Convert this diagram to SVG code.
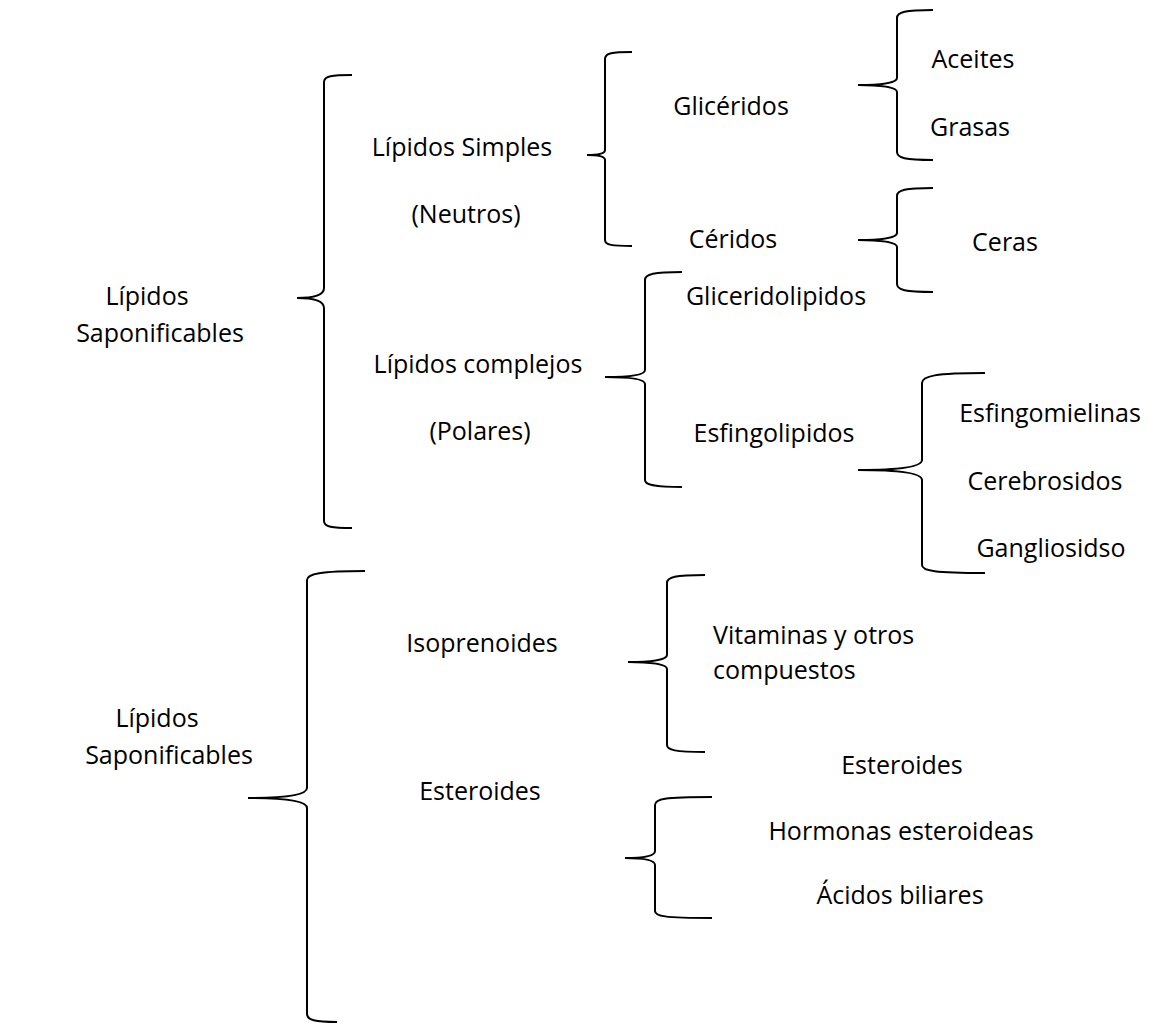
<svg xmlns="http://www.w3.org/2000/svg" width="1149" height="1025" viewBox="0 0 1149 1025">
<style>
.t{font-family:"Open Sans","Liberation Sans",sans-serif;font-size:25px;fill:#000;text-anchor:middle}
.s{text-anchor:start}
.b{fill:none;stroke:#000;stroke-width:2}
</style>
<rect width="1149" height="1025" fill="#fff"/>
<g id="connectors">
<path class="b" d="M352,75 C332,75 324,76 324,82 L324,288 C324,296 312,298 297,298 C312,298 324,300 324,308 L324,521 C324,527 332,528 352,528"/>
<path class="b" d="M632,52 C612,52 605,53 605,59 L605,150 C605,154 596,155 587,155 C596,155 605,156 605,160 L605,240 C605,245 612,246 632,246"/>
<path class="b" d="M933,10 C905,10 897,12 897,18 L897,78 C897,83 880,85 858,85 C880,85 897,87 897,92 L897,152 C897,158 905,160 933,160"/>
<path class="b" d="M933,188 C905,188 897,190 897,196 L897,233 C897,238 880,240 858,240 C880,240 897,242 897,247 L897,284 C897,290 905,292 933,292"/>
<path class="b" d="M682,272 C654,272 645,274 645,280 L645,370 C645,375 630,377 605,377 C630,377 645,379 645,384 L645,480 C645,485 654,487 682,487"/>
<path class="b" d="M985,373 C935,373 922,376 922,383 L922,460 C922,467 900,470 858,470 C900,470 922,473 922,480 L922,565 C922,571 935,573 985,573"/>
<path class="b" d="M365,571 C320,571 307,574 307,580 L307,788 C307,795 285,798 248,798 C285,798 307,801 307,808 L307,1014 C307,1020 315,1022 337,1022"/>
<path class="b" d="M705,575 C675,575 667,577 667,583 L667,655 C667,660 650,662 628,662 C650,662 667,664 667,669 L667,745 C667,750 675,752 705,752"/>
<path class="b" d="M712,797 C663,797 655,799 655,805 L655,851 C655,856 642,858 625,858 C642,858 655,860 655,865 L655,911 C655,916 663,918 712,918"/>
</g>
<g id="n-sap1"><text class="t" x="147" y="305">Lípidos</text><text class="t" x="160" y="342">Saponificables</text></g>
<g id="n-simples"><text class="t" x="462" y="156">Lípidos Simples</text><text class="t" x="466" y="223">(Neutros)</text></g>
<g id="n-gliceridos"><text class="t" x="731" y="115">Glicéridos</text></g>
<g id="n-ceridos"><text class="t" x="733" y="248">Céridos</text></g>
<g id="n-aceites"><text class="t" x="973" y="68">Aceites</text></g>
<g id="n-grasas"><text class="t" x="970" y="136">Grasas</text></g>
<g id="n-ceras"><text class="t" x="1005" y="251">Ceras</text></g>
<g id="n-complejos"><text class="t" x="478" y="373">Lípidos complejos</text><text class="t" x="480" y="440">(Polares)</text></g>
<g id="n-glicerido"><text class="t" x="776" y="305">Gliceridolipidos</text></g>
<g id="n-esfingo"><text class="t" x="774" y="442">Esfingolipidos</text></g>
<g id="n-esfingomielinas"><text class="t" x="1050" y="422">Esfingomielinas</text></g>
<g id="n-cerebrosidos"><text class="t" x="1045" y="490">Cerebrosidos</text></g>
<g id="n-gangliosidos"><text class="t" x="1051" y="557">Gangliosidso</text></g>
<g id="n-sap2"><text class="t" x="157" y="727">Lípidos</text><text class="t" x="169" y="764">Saponificables</text></g>
<g id="n-isoprenoides"><text class="t" x="482" y="652">Isoprenoides</text></g>
<g id="n-vitaminas"><text class="t s" x="713" y="644">Vitaminas y otros</text><text class="t s" x="713" y="679">compuestos</text></g>
<g id="n-esteroides"><text class="t" x="480" y="800">Esteroides</text></g>
<g id="n-esteroides2"><text class="t" x="902" y="774">Esteroides</text></g>
<g id="n-hormonas"><text class="t" x="901" y="840">Hormonas esteroideas</text></g>
<g id="n-acidos"><text class="t" x="900" y="904">Ácidos biliares</text></g>
</svg>
